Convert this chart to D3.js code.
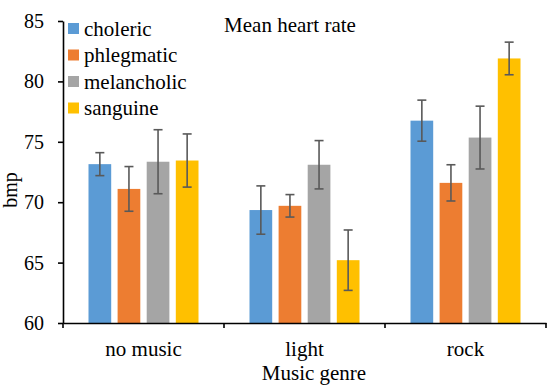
<!DOCTYPE html>
<html>
<head>
<meta charset="utf-8">
<script src="https://cdn.jsdelivr.net/npm/d3@7"></script>
<style>
  body { margin: 0; background: #fff; }
  svg text { font-family: "Liberation Serif", "Times New Roman", serif !important; fill: #000; }
</style>
</head>
<body>
<svg id="chart" width="550" height="391"></svg>
<script>
// chart data
const genres = ["no music", "light", "rock"];
const temperaments = ["choleric", "phlegmatic", "melancholic", "sanguine"];
const colors = ["#5B9BD5", "#ED7D31", "#A5A5A5", "#FFC000"];
// mean heart rate, one array per temperament (no music, light, rock)
const choleric = [73.15, 69.35, 76.75];
const phlegmatic = [71.1, 69.7, 71.6];
const melancholic = [73.35, 73.1, 75.35];
const sanguine = [73.45, 65.2, 81.9];
// error bar half-widths
const cholericErr = [0.95, 2.0, 1.7];
const phlegmaticErr = [1.85, 0.93, 1.5];
const melancholicErr = [2.65, 2.0, 2.6];
const sanguineErr = [2.2, 2.5, 1.35];
const yTicks = [60, 65, 70, 75, 80, 85];

const means = [choleric, phlegmatic, melancholic, sanguine];
const errs = [cholericErr, phlegmaticErr, melancholicErr, sanguineErr];

let svg = d3.select("#chart");

const plotLeft = 63, plotRight = 546, plotTop = 21, plotBottom = 323;

// scales
let x0 = d3.scaleBand().domain(genres).range([plotLeft, plotRight]);
let x1 = d3
  .scaleBand()
  .domain(temperaments)
  .range([25.5, 135.5])
  .paddingInner(0.22);
let y = d3.scaleLinear().domain([60, 85]).range([plotBottom, plotTop]);

// flatten to one row per bar
let rows = [];
genres.forEach((g, gi) => {
  temperaments.forEach((t, ti) => {
    rows.push({ genre: g, temp: t, ti: ti, value: means[ti][gi], err: errs[ti][gi] });
  });
});

// bars
svg
  .append("g")
  .selectAll("rect")
  .data(rows)
  .enter()
  .append("rect")
  .attr("x", (d) => x0(d.genre) + x1(d.temp))
  .attr("y", (d) => y(d.value))
  .attr("width", x1.bandwidth())
  .attr("height", (d) => plotBottom - y(d.value))
  .attr("fill", (d) => colors[d.ti]);

// error bars
let eg = svg
  .append("g")
  .attr("stroke", "#595959")
  .attr("stroke-width", 1.6)
  .selectAll("g")
  .data(rows)
  .enter()
  .append("g")
  .attr("transform", (d) => `translate(${x0(d.genre) + x1(d.temp) + x1.bandwidth() / 2},0)`);
eg.append("line")
  .attr("y1", (d) => y(d.value + d.err))
  .attr("y2", (d) => y(d.value - d.err));
eg.append("line")
  .attr("x1", -4.5)
  .attr("x2", 4.5)
  .attr("y1", (d) => y(d.value + d.err))
  .attr("y2", (d) => y(d.value + d.err));
eg.append("line")
  .attr("x1", -4.5)
  .attr("x2", 4.5)
  .attr("y1", (d) => y(d.value - d.err))
  .attr("y2", (d) => y(d.value - d.err));

// y axis
let yAxis = svg
  .append("g")
  .attr("transform", `translate(${plotLeft},0)`)
  .call(d3.axisLeft(y).tickValues(yTicks).tickSize(5).tickPadding(14).tickSizeOuter(0))
  .attr("font-size", 20);
yAxis.select(".domain").attr("stroke", "#000").attr("stroke-width", 1.6);
yAxis.selectAll(".tick line").attr("stroke", "#000").attr("stroke-width", 1.6);

// x axis: labels at band centres, ticks at band edges
let xAxis = svg
  .append("g")
  .attr("transform", `translate(0,${plotBottom})`)
  .call(d3.axisBottom(x0).tickSize(0).tickPadding(18).tickSizeOuter(0))
  .attr("font-size", 21);
xAxis.select(".domain").attr("stroke", "#000").attr("stroke-width", 1.6);

let edges = [x0(genres[0])].concat(genres.map((g) => x0(g) + x0.bandwidth()));
svg
  .append("g")
  .selectAll("line")
  .data(edges)
  .enter()
  .append("line")
  .attr("x1", (d) => d)
  .attr("x2", (d) => d)
  .attr("y1", plotBottom)
  .attr("y2", plotBottom + 5)
  .attr("stroke", "#000")
  .attr("stroke-width", 1.6);

// titles
svg
  .append("text")
  .attr("x", 290)
  .attr("y", 32)
  .attr("text-anchor", "middle")
  .attr("font-size", 21)
  .text("Mean heart rate");

svg
  .append("text")
  .attr("x", 314)
  .attr("y", 380)
  .attr("text-anchor", "middle")
  .attr("font-size", 21)
  .text("Music genre");

svg
  .append("text")
  .attr("transform", "translate(17,190) rotate(-90)")
  .attr("text-anchor", "middle")
  .attr("font-size", 20)
  .text("bmp");

// legend
let legend = svg
  .append("g")
  .selectAll("g")
  .data(temperaments)
  .enter()
  .append("g")
  .attr("transform", (d, i) => `translate(68,${23 + i * 26.5})`);
legend
  .append("rect")
  .attr("width", 11)
  .attr("height", 11)
  .attr("fill", (d, i) => colors[i]);
legend
  .append("text")
  .attr("x", 16)
  .attr("y", 12.5)
  .attr("font-size", 21)
  .text((d) => d);
</script>
</body>
</html>
